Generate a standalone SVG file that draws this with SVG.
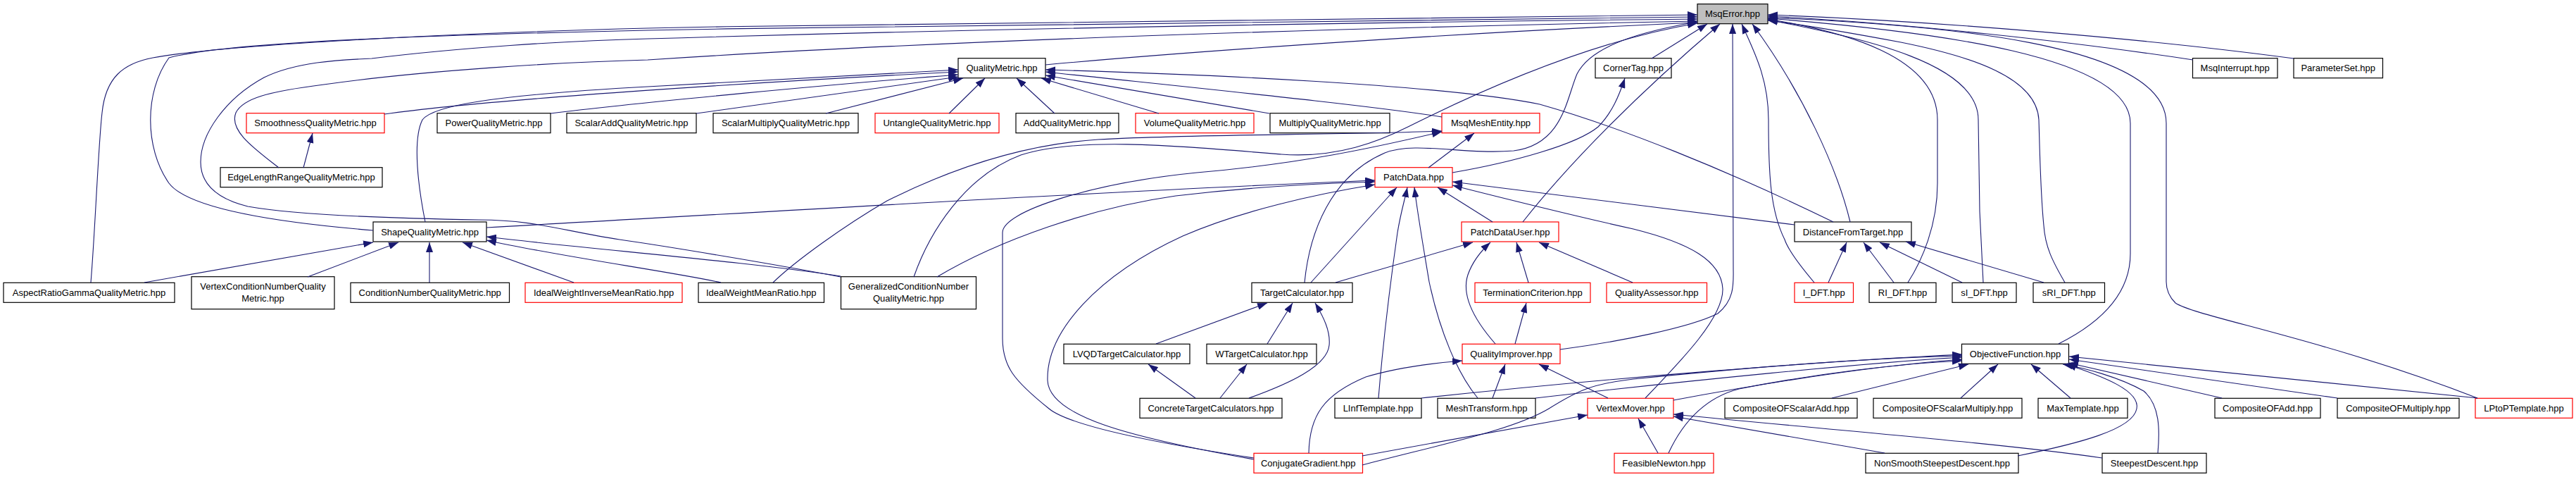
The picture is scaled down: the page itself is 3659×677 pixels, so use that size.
<svg xmlns="http://www.w3.org/2000/svg" width="3659" height="677" viewBox="0 0 3659 677">
<style>
.n rect{fill:#fff;stroke:#000;stroke-width:1.2}
.n.r rect{stroke:#ff0000}
.n.g rect{fill:#bfbfbf}
text{font-family:"Liberation Sans",Helvetica,Arial,sans-serif;font-size:13px;fill:#000;text-anchor:middle}
#edges path{fill:none;stroke:#191970;stroke-width:1.1;marker-end:url(#ah)}
</style>
<defs>
<marker id="ah" viewBox="0 0 14 10" refX="14" refY="5" markerWidth="14" markerHeight="10" markerUnits="userSpaceOnUse" orient="auto">
<path d="M0,0 L14,5 L0,10 z" fill="#191970"/>
</marker>
</defs>
<rect width="3659" height="677" fill="#fff"/>
<g id="nodes">
<g id="n0" class="n g"><rect x="2411" y="5.7" width="100" height="28"/><text x="2461" y="24.2">MsqError.hpp</text></g>
<g id="n1" class="n"><rect x="1361" y="82.7" width="124" height="28"/><text x="1423" y="101.2">QualityMetric.hpp</text></g>
<g id="n2" class="n"><rect x="2266" y="82.7" width="108" height="28"/><text x="2320" y="101.2">CornerTag.hpp</text></g>
<g id="n3" class="n"><rect x="3114.5" y="82.7" width="120.5" height="28"/><text x="3174.7" y="101.2">MsqInterrupt.hpp</text></g>
<g id="n4" class="n"><rect x="3258" y="82.7" width="126.5" height="28"/><text x="3321.2" y="101.2">ParameterSet.hpp</text></g>
<g id="n5" class="n r"><rect x="350" y="160.7" width="196" height="28"/><text x="448" y="179.2">SmoothnessQualityMetric.hpp</text></g>
<g id="n6" class="n"><rect x="621" y="160.7" width="161" height="28"/><text x="701.5" y="179.2">PowerQualityMetric.hpp</text></g>
<g id="n7" class="n"><rect x="805" y="160.7" width="184" height="28"/><text x="897" y="179.2">ScalarAddQualityMetric.hpp</text></g>
<g id="n8" class="n"><rect x="1013" y="160.7" width="206" height="28"/><text x="1116" y="179.2">ScalarMultiplyQualityMetric.hpp</text></g>
<g id="n9" class="n r"><rect x="1243" y="160.7" width="176" height="28"/><text x="1331" y="179.2">UntangleQualityMetric.hpp</text></g>
<g id="n10" class="n"><rect x="1443" y="160.7" width="146" height="28"/><text x="1516" y="179.2">AddQualityMetric.hpp</text></g>
<g id="n11" class="n r"><rect x="1613" y="160.7" width="168" height="28"/><text x="1697" y="179.2">VolumeQualityMetric.hpp</text></g>
<g id="n12" class="n"><rect x="1804" y="160.7" width="170" height="28"/><text x="1889" y="179.2">MultiplyQualityMetric.hpp</text></g>
<g id="n13" class="n r"><rect x="2048" y="160.7" width="139" height="28"/><text x="2117.5" y="179.2">MsqMeshEntity.hpp</text></g>
<g id="n14" class="n"><rect x="313" y="237.7" width="230" height="28"/><text x="428" y="256.2">EdgeLengthRangeQualityMetric.hpp</text></g>
<g id="n15" class="n r"><rect x="1953" y="237.7" width="110" height="28"/><text x="2008" y="256.2">PatchData.hpp</text></g>
<g id="n16" class="n"><rect x="530" y="315" width="161" height="28"/><text x="610.5" y="333.5">ShapeQualityMetric.hpp</text></g>
<g id="n17" class="n r"><rect x="2076" y="315" width="138" height="28"/><text x="2145" y="333.5">PatchDataUser.hpp</text></g>
<g id="n18" class="n"><rect x="2549" y="315" width="166" height="28"/><text x="2632" y="333.5">DistanceFromTarget.hpp</text></g>
<g id="n19" class="n"><rect x="5" y="401.3" width="243" height="28"/><text x="126.5" y="419.8">AspectRatioGammaQualityMetric.hpp</text></g>
<g id="n20" class="n"><rect x="272" y="392.7" width="203" height="46"/><text x="373.5" y="411.2">VertexConditionNumberQuality</text><text x="373.5" y="428">Metric.hpp</text></g>
<g id="n21" class="n"><rect x="498" y="401.3" width="225.5" height="28"/><text x="610.7" y="419.8">ConditionNumberQualityMetric.hpp</text></g>
<g id="n22" class="n r"><rect x="746" y="401.3" width="223" height="28"/><text x="857.5" y="419.8">IdealWeightInverseMeanRatio.hpp</text></g>
<g id="n23" class="n"><rect x="992" y="401.3" width="178.5" height="28"/><text x="1081.2" y="419.8">IdealWeightMeanRatio.hpp</text></g>
<g id="n24" class="n"><rect x="1194.5" y="392.7" width="192" height="46"/><text x="1290.5" y="411.2">GeneralizedConditionNumber</text><text x="1290.5" y="428">QualityMetric.hpp</text></g>
<g id="n25" class="n"><rect x="1778" y="401.3" width="143" height="28"/><text x="1849.5" y="419.8">TargetCalculator.hpp</text></g>
<g id="n26" class="n r"><rect x="2095" y="401.3" width="164" height="28"/><text x="2177" y="419.8">TerminationCriterion.hpp</text></g>
<g id="n27" class="n r"><rect x="2282" y="401.3" width="142.5" height="28"/><text x="2353.2" y="419.8">QualityAssessor.hpp</text></g>
<g id="n28" class="n r"><rect x="2549" y="401.3" width="83.5" height="28"/><text x="2590.7" y="419.8">I_DFT.hpp</text></g>
<g id="n29" class="n"><rect x="2655" y="401.3" width="95" height="28"/><text x="2702.5" y="419.8">RI_DFT.hpp</text></g>
<g id="n30" class="n"><rect x="2773" y="401.3" width="91" height="28"/><text x="2818.5" y="419.8">sI_DFT.hpp</text></g>
<g id="n31" class="n"><rect x="2888" y="401.3" width="101.5" height="28"/><text x="2938.7" y="419.8">sRI_DFT.hpp</text></g>
<g id="n32" class="n"><rect x="1511" y="488.3" width="179" height="28"/><text x="1600.5" y="506.8">LVQDTargetCalculator.hpp</text></g>
<g id="n33" class="n"><rect x="1714" y="488.3" width="156" height="28"/><text x="1792" y="506.8">WTargetCalculator.hpp</text></g>
<g id="n34" class="n r"><rect x="2077" y="488.3" width="139" height="28"/><text x="2146.5" y="506.8">QualityImprover.hpp</text></g>
<g id="n35" class="n"><rect x="2786.5" y="488.3" width="152" height="28"/><text x="2862.5" y="506.8">ObjectiveFunction.hpp</text></g>
<g id="n36" class="n"><rect x="1619" y="565.3" width="202" height="28"/><text x="1720" y="583.8">ConcreteTargetCalculators.hpp</text></g>
<g id="n37" class="n"><rect x="1896" y="565.3" width="123" height="28"/><text x="1957.5" y="583.8">LInfTemplate.hpp</text></g>
<g id="n38" class="n"><rect x="2042" y="565.3" width="139" height="28"/><text x="2111.5" y="583.8">MeshTransform.hpp</text></g>
<g id="n39" class="n r"><rect x="2255" y="565.3" width="122" height="28"/><text x="2316" y="583.8">VertexMover.hpp</text></g>
<g id="n40" class="n"><rect x="2450" y="565.3" width="188" height="28"/><text x="2544" y="583.8">CompositeOFScalarAdd.hpp</text></g>
<g id="n41" class="n"><rect x="2661" y="565.3" width="211" height="28"/><text x="2766.5" y="583.8">CompositeOFScalarMultiply.hpp</text></g>
<g id="n42" class="n"><rect x="2895" y="565.3" width="127" height="28"/><text x="2958.5" y="583.8">MaxTemplate.hpp</text></g>
<g id="n43" class="n"><rect x="3146" y="565.3" width="150" height="28"/><text x="3221" y="583.8">CompositeOFAdd.hpp</text></g>
<g id="n44" class="n"><rect x="3320" y="565.3" width="173" height="28"/><text x="3406.5" y="583.8">CompositeOFMultiply.hpp</text></g>
<g id="n45" class="n r"><rect x="3516" y="565.3" width="138" height="28"/><text x="3585" y="583.8">LPtoPTemplate.hpp</text></g>
<g id="n46" class="n r"><rect x="1781" y="643.3" width="154.5" height="28"/><text x="1858.2" y="661.8">ConjugateGradient.hpp</text></g>
<g id="n47" class="n r"><rect x="2293" y="643.3" width="141" height="28"/><text x="2363.5" y="661.8">FeasibleNewton.hpp</text></g>
<g id="n48" class="n"><rect x="2650" y="643.3" width="217" height="28"/><text x="2758.5" y="661.8">NonSmoothSteepestDescent.hpp</text></g>
<g id="n49" class="n"><rect x="2986" y="643.3" width="148" height="28"/><text x="3060" y="661.8">SteepestDescent.hpp</text></g>
</g>
<g id="edges">
<path d="M129,401 C135,330 140,200 145,160 C150,110 175,90 217,82 C300,66 600,48 920,40 C1500,28 2100,22 2411,21"/>
<path d="M530,327 C420,318 270,300 240,260 C205,210 205,130 240,82 C320,60 600,50 920,43 C1500,32 2100,25 2411,24"/>
<path d="M1194,393 C1100,375 950,350 880,340 C800,328 760,312 680,312 C560,310 420,305 352,293 C300,280 285,255 285,230 C285,190 320,140 375,110 C420,88 480,85 528,83 C650,68 800,58 920,55 C1500,38 2100,30 2411,27"/>
<path d="M396,238 C360,210 325,185 335,160 C345,140 380,130 460,120 C600,100 800,88 920,85 C1300,60 1800,42 2411,30"/>
<path d="M1485,92 C1700,72 2100,45 2411,32"/>
<path d="M1298,393 C1320,330 1370,250 1450,220 C1530,195 1650,205 1820,219 C1900,225 1960,200 2000,180 C2080,140 2250,60 2411,33"/>
<path d="M1853,401 C1860,330 1890,250 1967,217 C2010,200 2080,220 2150,214 C2220,205 2225,140 2240,105 C2260,65 2330,45 2411,31"/>
<path d="M2346,83 L2425,34"/>
<path d="M2163,315 C2230,230 2330,130 2443,34"/>
<path d="M2216,496 C2300,485 2400,465 2440,445 C2465,425 2462,400 2462,380 L2461,34"/>
<path d="M2577,401 C2555,375 2540,355 2535,340 C2515,300 2512,250 2512,170 C2512,110 2490,70 2474,34"/>
<path d="M2628,315 C2610,240 2560,130 2489,34"/>
<path d="M2710,401 C2730,370 2752,320 2752,260 L2752,170 C2752,80 2620,45 2511,27"/>
<path d="M2817,401 L2812,300 L2810,170 C2810,90 2650,55 2511,28"/>
<path d="M2933,401 C2915,370 2905,350 2903,320 C2898,270 2897,200 2896,170 C2893,110 2800,80 2700,60 C2620,45 2560,35 2511,29"/>
<path d="M2924,488 C2980,460 3026,420 3026,360 L3026,175 C3026,80 2750,45 2511,26"/>
<path d="M3519,565 C3300,480 3120,450 3090,430 C3080,420 3077,410 3077,400 L3077,175 C3077,60 2750,35 2511,25"/>
<path d="M3115,85 C2950,60 2700,32 2511,23"/>
<path d="M3258,83 C3050,55 2750,30 2511,21"/>
<path d="M546,162 C700,140 1100,115 1361,102"/>
<path d="M782,161 C900,146 1200,118 1361,106"/>
<path d="M604,315 C595,270 585,200 600,170 C615,150 700,135 920,123 C1100,113 1250,104 1361,99"/>
<path d="M989,161 L1361,109"/>
<path d="M1173,161 L1368,111"/>
<path d="M1348,161 L1399,111"/>
<path d="M1498,161 L1444,111"/>
<path d="M1646,161 L1479,111"/>
<path d="M1803,161 L1485,107"/>
<path d="M2048,166 C1950,150 1700,125 1485,102"/>
<path d="M2604,315 C2450,240 2300,180 2187,148 C2050,120 1700,105 1485,99"/>
<path d="M205,401 L530,344"/>
<path d="M437,393 L566,344"/>
<path d="M610,401 L610,344"/>
<path d="M815,401 L657,344"/>
<path d="M1024,401 C950,385 800,365 691,341"/>
<path d="M1194,392 C1050,370 850,355 691,336"/>
<path d="M431,238 L444,189"/>
<path d="M2029,238 L2094,189"/>
<path d="M1098,401 C1130,370 1200,320 1260,285 C1350,240 1450,205 1560,198 C1700,190 1900,192 2048,186"/>
<path d="M1781,650 C1650,630 1520,605 1490,580 C1440,540 1424,520 1424,480 L1424,330 C1424,300 1550,260 1700,245 C1850,232 1950,210 2048,187"/>
<path d="M691,323 C1100,300 1600,270 1953,256"/>
<path d="M1331,393 C1420,340 1550,295 1670,278 C1780,265 1880,260 1953,258"/>
<path d="M1781,652 C1600,620 1490,590 1488,540 C1486,470 1560,390 1680,335 C1760,300 1870,275 1953,262"/>
<path d="M1862,401 L1984,266"/>
<path d="M1958,565 C1965,480 1975,400 1985,330 C1990,300 1995,285 1999,266"/>
<path d="M2099,565 C2070,530 2045,470 2030,400 C2020,340 2013,300 2009,266"/>
<path d="M2120,315 L2042,266"/>
<path d="M2549,319 L2063,258"/>
<path d="M2337,565 C2390,510 2448,450 2447,410 C2445,370 2400,345 2320,325 C2230,305 2130,280 2063,263"/>
<path d="M2063,245 C2150,230 2240,205 2270,180 C2290,160 2300,135 2308,111"/>
<path d="M1897,401 L2092,344"/>
<path d="M2124,488 C2095,455 2075,420 2085,390 C2092,370 2105,355 2117,344"/>
<path d="M2171,401 L2154,344"/>
<path d="M2319,401 L2186,344"/>
<path d="M2152,488 L2168,430"/>
<path d="M2597,401 L2623,344"/>
<path d="M2690,401 L2647,344"/>
<path d="M2787,401 L2670,344"/>
<path d="M2903,401 L2707,343"/>
<path d="M1642,488 L1800,430"/>
<path d="M1800,488 L1836,430"/>
<path d="M1774,565 C1830,545 1885,520 1888,490 C1890,470 1880,450 1868,430"/>
<path d="M1698,565 L1631,517"/>
<path d="M1733,565 L1771,517"/>
<path d="M2120,565 L2138,517"/>
<path d="M2284,565 L2186,517"/>
<path d="M1859,643 C1860,590 1880,560 1940,535 C1990,520 2040,515 2077,512"/>
<path d="M1935,647 L2255,589"/>
<path d="M2355,643 L2327,594"/>
<path d="M2677,643 L2377,591"/>
<path d="M2986,650 C2850,630 2600,610 2377,588"/>
<path d="M2019,565 C2300,535 2600,512 2787,503"/>
<path d="M2181,565 C2400,540 2650,515 2787,507"/>
<path d="M1935,660 C2050,630 2150,610 2200,580 C2240,555 2260,545 2320,538 C2500,520 2650,508 2787,505"/>
<path d="M2377,568 C2500,545 2650,520 2787,510"/>
<path d="M2370,643 C2390,600 2420,565 2470,552 C2580,530 2700,516 2787,512"/>
<path d="M2602,565 L2796,517"/>
<path d="M2785,565 L2838,517"/>
<path d="M2941,565 L2885,517"/>
<path d="M3156,565 L2938,515"/>
<path d="M3320,565 L2939,510"/>
<path d="M3519,565 L2939,506"/>
<path d="M2866,647 C2950,630 3030,610 3035,580 C3040,555 2990,535 2935,517"/>
<path d="M3065,643 C3068,610 3068,575 3045,555 C3010,535 2960,522 2930,517"/>
</g>
</svg>
